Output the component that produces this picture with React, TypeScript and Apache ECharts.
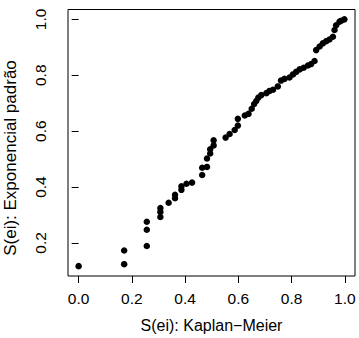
import React, { useEffect, useRef } from "react";
import * as echarts from "echarts";

const kmValues: number[] = [
  0.0, 0.171, 0.171, 0.256, 0.256, 0.256, 0.307, 0.307, 0.307, 0.338,
  0.362, 0.362, 0.386, 0.386, 0.405, 0.426, 0.464, 0.464, 0.482, 0.482,
  0.494, 0.494, 0.507, 0.507, 0.552, 0.567, 0.586, 0.598, 0.598, 0.624,
  0.638, 0.65, 0.659, 0.667, 0.675, 0.686, 0.705, 0.717, 0.73, 0.748,
  0.76, 0.773, 0.792, 0.805, 0.817, 0.83, 0.845, 0.861, 0.873, 0.886,
  0.892, 0.905, 0.917, 0.93, 0.942, 0.955, 0.961, 0.967, 0.98, 0.986,
  0.998,
];
const expValues: number[] = [
  0.117, 0.124, 0.173, 0.189, 0.247, 0.276, 0.293, 0.311, 0.325, 0.344,
  0.36, 0.372, 0.39, 0.403, 0.412, 0.416, 0.443, 0.469, 0.472, 0.502,
  0.52, 0.535, 0.549, 0.567, 0.577, 0.59, 0.604, 0.62, 0.644, 0.656,
  0.662, 0.68, 0.697, 0.708, 0.72, 0.729, 0.736, 0.744, 0.748, 0.76,
  0.781, 0.787, 0.792, 0.803, 0.812, 0.821, 0.827, 0.835, 0.84, 0.851,
  0.89, 0.903, 0.914, 0.922, 0.928, 0.938, 0.962, 0.979, 0.992, 0.995,
  1.0,
];
const xTicks: number[] = [0, 0.2, 0.4, 0.6, 0.8, 1.0];
const yTicks: number[] = [0.2, 0.4, 0.6, 0.8, 1.0];
const xTitle = "S(ei): Kaplan\u2212Meier";
const yTitle = "S(ei): Exponencial padrão";

const FONT = "'Liberation Sans', Arial, Helvetica, sans-serif";
const FS = 15.5;

export default function App() {
  const ref = useRef<HTMLDivElement>(null);
  useEffect(() => {
    if (!ref.current) return;
    const chart = echarts.init(ref.current, null, { renderer: "svg" });
    const points = kmValues.map((x, i) => [x, expValues[i]]);
    const xmin = Math.min(...kmValues), xmax = Math.max(...kmValues);
    const ymin = Math.min(...expValues), ymax = Math.max(...expValues);
    const dx = (xmax - xmin) * 0.04, dy = (ymax - ymin) * 0.04;
    chart.setOption({
      animation: false,
      backgroundColor: "#ffffff",
      textStyle: { fontFamily: FONT },
      grid: {
        left: 68,
        right: 4,
        top: 9.5,
        bottom: 59.5,
        show: true,
        borderColor: "#000",
        borderWidth: 1,
        backgroundColor: "transparent",
      },
      graphic: [
        {
          type: "text",
          x: 10,
          y: 158,
          rotation: Math.PI / 2,
          style: {
            text: yTitle,
            fill: "#000",
            font: `17px ${FONT}`,
            align: "center",
            verticalAlign: "middle",
          },
          silent: true,
        },
      ],
      xAxis: {
        type: "value",
        min: xmin - dx,
        max: xmax + dx,
        name: xTitle,
        nameLocation: "middle",
        nameGap: 41,
        nameTextStyle: { color: "#000", fontSize: 16, fontFamily: FONT },
        axisLine: { show: false },
        splitLine: { show: false },
        axisTick: {
          show: true,
          inside: false,
          length: 7,
          lineStyle: { color: "#000", width: 1 },
          customValues: xTicks,
        },
        axisLabel: {
          color: "#000",
          fontSize: FS,
          fontFamily: FONT,
          margin: 14,
          customValues: xTicks,
          formatter: (v: number) => v.toFixed(1),
        },
      },
      yAxis: {
        type: "value",
        min: ymin - dy,
        max: ymax + dy,
        axisLine: { show: false },
        splitLine: { show: false },
        axisTick: {
          show: true,
          inside: false,
          length: 7,
          lineStyle: { color: "#000", width: 1 },
          customValues: yTicks,
        },
        axisLabel: {
          color: "#000",
          fontSize: FS,
          fontFamily: FONT,
          rotate: 90,
          margin: 20,
          customValues: yTicks,
          formatter: (v: number) => v.toFixed(1),
        },
      },
      series: [
        {
          type: "scatter",
          data: points,
          symbol: "circle",
          symbolSize: 6.5,
          itemStyle: { color: "#000", opacity: 1 },
          silent: true,
        },
      ],
    });
    return () => chart.dispose();
  }, []);
  return (
    <div
      ref={ref}
      style={{ position: "fixed", left: 0, top: 0, width: 359, height: 338 }}
    />
  );
}
